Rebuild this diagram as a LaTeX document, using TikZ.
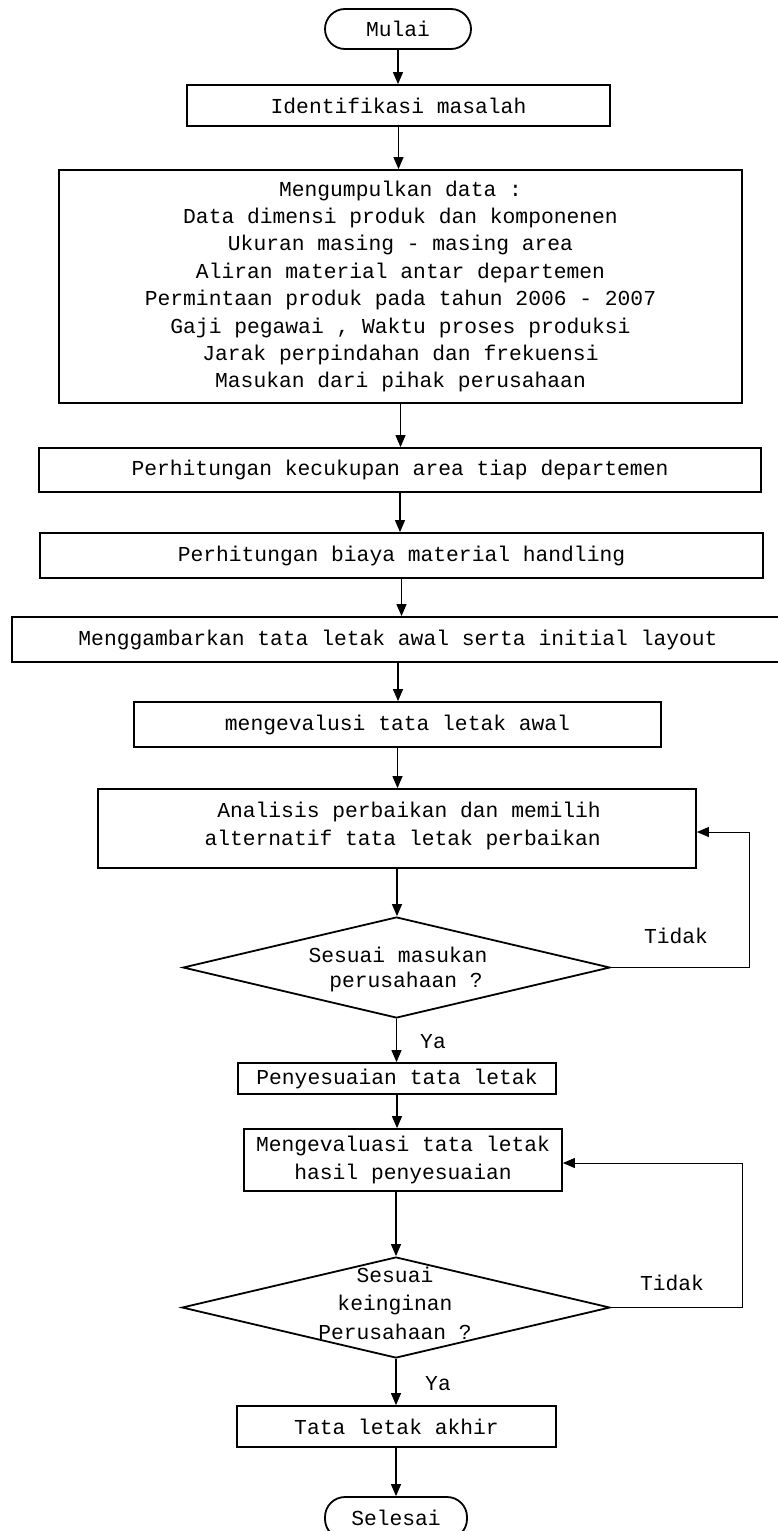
\documentclass[tikz,border=0pt]{standalone}
\usepackage{fontspec}
\setmainfont{Liberation Mono}
\usetikzlibrary{shapes.geometric,arrows.meta}
\begin{document}
\begin{tikzpicture}[x=1pt,y=-1pt,
  every node/.style={font=\fontsize{21.3}{27.4}\selectfont},
  box/.style={draw,line width=1.8pt,rectangle,inner sep=0pt,align=center},
  term/.style={box,rounded corners=20pt},
  dec/.style={draw,line width=1.8pt,diamond,inner sep=0pt},
  arr/.style={line width=1.2pt,-{Triangle[length=12pt,width=10pt]}},
  back/.style={line width=1pt,-{Triangle[length=12pt,width=10pt]}},
  lbl/.style={inner sep=0pt}]
\useasboundingbox (0,0) rectangle (777,1531);
\node[term,minimum width=146pt,minimum height=40pt] (start) at (398,29) {Mulai};
\node[box,minimum width=423pt,minimum height=41pt] (idm) at (398.5,105.5) {Identifikasi masalah};
\node[box,minimum width=683pt,minimum height=233pt] (data) at (400.5,286.5) {Mengumpulkan data :\\
Data dimensi produk dan komponenen\\
Ukuran masing - masing area\\
Aliran material antar departemen\\
Permintaan produk pada tahun 2006 - 2007\\
Gaji pegawai , Waktu proses produksi\\
Jarak perpindahan dan frekuensi\\
Masukan dari pihak perusahaan};
\node[box,minimum width=722pt,minimum height=44pt] (kec) at (400,470) {Perhitungan kecukupan area tiap departemen};
\node[box,minimum width=723pt,minimum height=45pt] (biaya) at (401.5,555.5) {Perhitungan biaya material handling};
\node[box,minimum width=772pt,minimum height=45pt] (gambar) at (398,639.5) {Menggambarkan tata letak awal serta initial layout};
\node[box,minimum width=527pt,minimum height=45pt] (evawal) at (397.5,724.5) {mengevalusi tata letak awal};
\node[box,minimum width=598pt,minimum height=79pt] (anl) at (397,828.5) {};
\node[lbl,align=right,anchor=east] (anlt) at (601,826) {Analisis perbaikan dan memilih\\alternatif tata letak perbaikan};
\node[dec,minimum width=427pt,minimum height=101pt] (d1) at (396.5,967.5) {};
\node[lbl] (d1a) at (398,955) {Sesuai masukan};
\node[lbl] (d1b) at (406,982) {perusahaan ?};
\node[box,minimum width=318pt,minimum height=31pt] (peny) at (397,1078.5) {Penyesuaian tata letak};
\node[box,minimum width=318pt,minimum height=62pt] (evhasil) at (403,1160) {Mengevaluasi tata letak\\hasil penyesuaian};
\node[dec,minimum width=428pt,minimum height=101pt] (d2) at (396,1307.5) {};
\node[lbl,align=center,font=\fontsize{21.3}{28.5}\selectfont] (d2t) at (395,1303) {Sesuai\\keinginan\\Perusahaan ?};
\node[box,minimum width=319pt,minimum height=41pt] (akhir) at (396.5,1426.5) {Tata letak akhir};
\node[term,minimum width=142pt,minimum height=42pt] (end) at (396,1518) {Selesai};
\node[lbl] (t1) at (676,936) {Tidak};
\node[lbl] (y1) at (433,1042) {Ya};
\node[lbl] (t2) at (672,1283) {Tidak};
\node[lbl] (y2) at (438,1384) {Ya};
\coordinate (f1) at (749,832);
\coordinate (f2) at (742,1163);
\draw[arr] (start.south) -- (start.south |- idm.north);
\draw[arr] (idm.south) -- (idm.south |- data.north);
\draw[arr] (data.south) -- (data.south |- kec.north);
\draw[arr] (kec.south) -- (kec.south |- biaya.north);
\draw[arr] (biaya.south) -- (biaya.south |- gambar.north);
\draw[arr] (gambar.south) -- (gambar.south |- evawal.north);
\draw[arr] (evawal.south) -- (evawal.south |- anl.north);
\draw[arr] (anl.south) -- (anl.south |- d1.north);
\draw[arr] (d1.south) -- (d1.south |- peny.north);
\draw[arr] (peny.south) -- (peny.south |- evhasil.north);
\draw[arr] (evhasil.south -| d2.north) -- (d2.north);
\draw[arr] (d2.south) -- (d2.south |- akhir.north);
\draw[arr] (akhir.south -| end.north) -- (end.north);
\draw[back] (d1.east) -- (d1.east -| f1) -- (f1) -- (f1 -| anl.east);
\draw[back] (d2.east) -- (d2.east -| f2) -- (f2) -- (f2 -| evhasil.east);
\end{tikzpicture}
\end{document}
